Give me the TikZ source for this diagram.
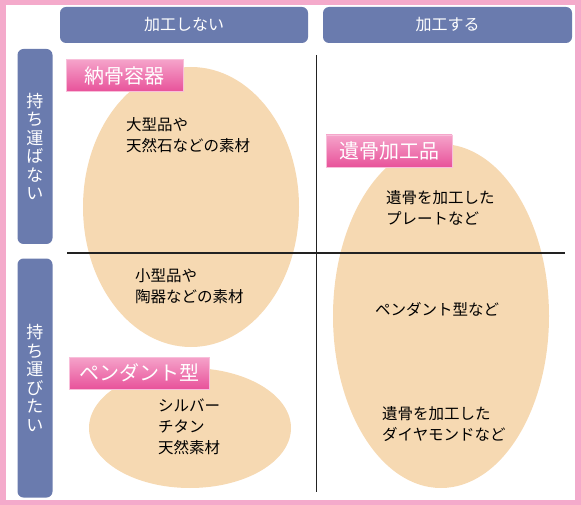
\documentclass[tikz,border=0pt]{standalone}
\usepackage{fontspec}
\setmainfont{Noto Sans CJK JP}
\usetikzlibrary{positioning}
\definecolor{headblue}{HTML}{6A7BAE}
\definecolor{framepink}{HTML}{F4AACB}
\definecolor{eggfill}{HTML}{F6D9B2}
\definecolor{tagtop}{HTML}{F5A3CA}
\definecolor{tagbot}{HTML}{E8529A}
\definecolor{gridline}{HTML}{222222}

\begin{document}
\begin{tikzpicture}[
  x=1pt,y=-1pt,
  head/.style={fill=headblue,rounded corners=6pt,text=white,inner sep=0pt,
    font=\fontsize{16}{18}\selectfont},
  side/.style={fill=headblue,rounded corners=6pt,text=white,inner sep=0pt,
    minimum width=35pt,align=center,font=\fontsize{17}{18.5}\selectfont},
  egg/.style={fill=eggfill},
  tag/.style={top color=tagtop,bottom color=tagbot,draw=tagtop!70!white,
    text=white,inner sep=0pt,minimum height=32pt,font=\fontsize{20}{22}\selectfont},
  body/.style={anchor=north west,align=left,inner sep=0pt,
    font=\fontsize{15.5}{21}\selectfont},
  grid/.style={draw=gridline,line width=1.2pt},
]
  \useasboundingbox (0,0) rectangle (581,505);

  % Column and row headers
  \node[head,minimum width=248pt,minimum height=36pt] (nocraft) at (184,25) {加工しない};
  \node[head,minimum width=249pt,minimum height=36pt] (craft) at (447.5,25) {加工する};
  \node[side,minimum height=195pt] (stay) at (35,146.5) {持\\ち\\運\\ば\\な\\い};
  \node[side,minimum height=239pt] (carry) at (35,378) {持\\ち\\運\\び\\た\\い};

  % Quadrant lines
  \coordinate (vtop) at (316.5,55);
  \coordinate (vbot) at (316.5,492);
  \coordinate (hleft) at (67,253);
  \coordinate (hright) at (565,253);

  % Category ellipses
  \fill[egg] (191,207) ellipse (108 and 140);
  \fill[egg] (190,428) ellipse (101 and 60);
  \fill[egg] (441,316) ellipse (108 and 172);

  \draw[grid] (vtop) -- (vbot);
  \draw[grid] (hleft) -- (hright);

  % Category tags
  \node[tag,minimum width=117pt] (urn) at (124.5,75.5) {納骨容器};
  \node[tag,minimum width=126pt] (remains) at (389,151) {遺骨加工品};
  \node[tag,minimum width=140pt] (pendant) at (139,373) {ペンダント型};

  % Descriptions
  \node[body] (large) at (126,117) {大型品や\\天然石などの素材};
  \node[body] (small) at (135,268) {小型品や\\陶器などの素材};
  \node[body] (metal) at (158,399) {シルバー\\チタン\\天然素材};
  \node[body] (plate) at (386,190) {遺骨を加工した\\プレートなど};
  \node[body,anchor=north] (pendtype) at (437,302) {ペンダント型など};
  \node[body] (diamond) at (382,406) {遺骨を加工した\\ダイヤモンドなど};

  % Outer frame
  \draw[framepink,line width=5.5pt] (3,2.75) rectangle (578,502.25);
\end{tikzpicture}
\end{document}
